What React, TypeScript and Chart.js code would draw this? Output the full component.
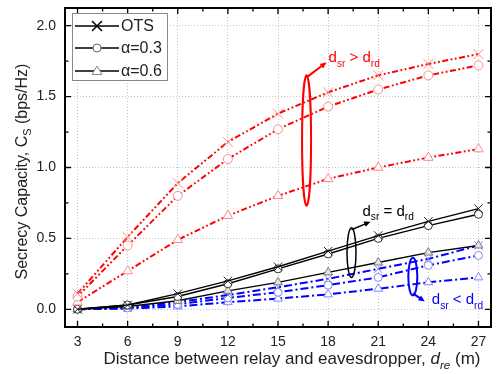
import React, { useEffect, useRef } from "react";
import { Chart, registerables } from "chart.js";
Chart.register(...registerables);

// ---------------- data ----------------
const distances = [3, 6, 9, 12, 15, 18, 21, 24, 27];
const xTicks = [3, 6, 9, 12, 15, 18, 21, 24, 27];
const xMinorTicks = [4.5, 7.5, 10.5, 13.5, 16.5, 19.5, 22.5, 25.5];
const yTicks = [0, 0.5, 1.0, 1.5, 2.0];
const yMinorTicks = [0.25, 0.75, 1.25, 1.75];

// d_sr > d_rd (red)
const redOTS = [0.11, 0.51, 0.89, 1.18, 1.38, 1.53, 1.65, 1.73, 1.8];
const redA03 = [0.09, 0.45, 0.8, 1.06, 1.27, 1.43, 1.55, 1.65, 1.72];
const redA06 = [0.05, 0.27, 0.49, 0.66, 0.8, 0.92, 1.0, 1.07, 1.13];
// d_sr = d_rd (black)
const blackOTS = [0, 0.03, 0.11, 0.2, 0.3, 0.41, 0.52, 0.62, 0.71];
const blackA03 = [0, 0.03, 0.09, 0.18, 0.285, 0.39, 0.5, 0.59, 0.67];
const blackA06 = [0, 0.02, 0.06, 0.13, 0.19, 0.26, 0.33, 0.4, 0.45];
// d_sr < d_rd (blue)
const blueOTS = [0, 0.01, 0.05, 0.1, 0.155, 0.215, 0.285, 0.355, 0.45];
const blueA03 = [0, 0.01, 0.035, 0.08, 0.12, 0.17, 0.225, 0.31, 0.38];
const blueA06 = [0, 0.005, 0.02, 0.05, 0.075, 0.105, 0.145, 0.19, 0.225];

const legendLabels = ["OTS", "α=0.3", "α=0.6"];
const xTitle = "Distance between relay and eavesdropper, ";
const yTitle = "Secrecy Capacity, ";

const FONT = "'Liberation Sans', Arial, sans-serif";
const RED = "#ff0000";
const RED_M = "#ff8a8a";
const BLUE = "#0000ff";
const BLUE_M = "#8585ff";

type Part = { t: string; sub?: boolean; italic?: boolean };

function partsWidth(ctx: CanvasRenderingContext2D, parts: Part[], size: number) {
  let w = 0;
  for (const p of parts) {
    const s = p.sub ? size * 0.68 : size;
    ctx.font = `${p.italic ? "italic " : ""}${s}px ${FONT}`;
    w += ctx.measureText(p.t).width;
  }
  return w;
}

function drawParts(
  ctx: CanvasRenderingContext2D,
  parts: Part[],
  x: number,
  y: number,
  size: number,
  color: string,
  align: "left" | "center" = "left"
) {
  ctx.save();
  ctx.fillStyle = color;
  ctx.textBaseline = "alphabetic";
  ctx.textAlign = "left";
  let cx = x;
  if (align === "center") cx = x - partsWidth(ctx, parts, size) / 2;
  for (const p of parts) {
    const s = p.sub ? size * 0.68 : size;
    ctx.font = `${p.italic ? "italic " : ""}${s}px ${FONT}`;
    ctx.fillText(p.t, cx, p.sub ? y + size * 0.28 : y);
    cx += ctx.measureText(p.t).width;
  }
  ctx.restore();
}

function drawArrow(ctx: CanvasRenderingContext2D, x1: number, y1: number, x2: number, y2: number, color: string, lw: number) {
  const ang = Math.atan2(y2 - y1, x2 - x1);
  const hl = 7;
  ctx.save();
  ctx.strokeStyle = color;
  ctx.fillStyle = color;
  ctx.lineWidth = lw;
  ctx.beginPath();
  ctx.moveTo(x1, y1);
  ctx.lineTo(x2 - Math.cos(ang) * hl * 0.7, y2 - Math.sin(ang) * hl * 0.7);
  ctx.stroke();
  ctx.beginPath();
  ctx.moveTo(x2, y2);
  ctx.lineTo(x2 - hl * Math.cos(ang - 0.42), y2 - hl * Math.sin(ang - 0.42));
  ctx.lineTo(x2 - hl * Math.cos(ang + 0.42), y2 - hl * Math.sin(ang + 0.42));
  ctx.closePath();
  ctx.fill();
  ctx.restore();
}

function drawEllipse(ctx: CanvasRenderingContext2D, cx: number, cy: number, rx: number, ry: number, color: string, lw: number) {
  ctx.save();
  ctx.strokeStyle = color;
  ctx.lineWidth = lw;
  ctx.beginPath();
  ctx.ellipse(cx, cy, rx, ry, 0, 0, Math.PI * 2);
  ctx.stroke();
  ctx.restore();
}

// annotation groups anchored in data space
const annotations = [
  { x: 16.71, y: 1.19, ryVal: 0.46, color: RED, lw: 2, op: ">", arrowFromTop: true, dx: 20, dy: -15, tdx: 22, tdy: -15 },
  { x: 19.4, y: 0.4, ryVal: 0.175, color: "#000000", lw: 1.5, op: "=", arrowFromTop: true, dx: 19, dy: -8, tdx: 11, tdy: -14 },
  { x: 23.07, y: 0.231, ryVal: 0.133, color: BLUE, lw: 2, op: "<", arrowFromTop: false, dx: 12, dy: 8, tdx: 19, tdy: 11 },
];

const chromePlugin = {
  id: "chrome",
  afterDraw(chart: any) {
    const ctx: CanvasRenderingContext2D = chart.ctx;
    const { left, right, top, bottom } = chart.chartArea;
    const xs = chart.scales.x;
    const ys = chart.scales.y;

    // annotations
    for (const a of annotations) {
      const cx = xs.getPixelForValue(a.x);
      const cy = ys.getPixelForValue(a.y);
      const ry = Math.abs(ys.getPixelForValue(a.y + a.ryVal) - cy);
      drawEllipse(ctx, cx, cy, 4.5, ry, a.color, a.lw);
      const sx = cx;
      const sy = a.arrowFromTop ? cy - ry + 2 : cy + ry - 2;
      drawArrow(ctx, sx, sy, sx + a.dx, sy + a.dy, a.color, a.lw);
      drawParts(
        ctx,
        [{ t: "d" }, { t: "sr", sub: true }, { t: ` ${a.op} ` }, { t: "d" }, { t: "rd", sub: true }],
        sx + a.tdx,
        sy + a.tdy,
        15,
        a.color
      );
    }

    // frame
    ctx.save();
    ctx.strokeStyle = "#000";
    ctx.lineWidth = 2;
    ctx.strokeRect(left, top, right - left, bottom - top);
    // ticks (inward)
    ctx.lineWidth = 1.3;
    ctx.beginPath();
    const tick = (vals: number[], len: number) => {
      for (const v of vals) {
        const px = xs.getPixelForValue(v);
        ctx.moveTo(px, bottom);
        ctx.lineTo(px, bottom - len);
        ctx.moveTo(px, top);
        ctx.lineTo(px, top + len);
      }
    };
    const tickY = (vals: number[], len: number) => {
      for (const v of vals) {
        const py = ys.getPixelForValue(v);
        ctx.moveTo(left, py);
        ctx.lineTo(left + len, py);
        ctx.moveTo(right, py);
        ctx.lineTo(right - len, py);
      }
    };
    tick(xTicks, 6);
    tick(xMinorTicks, 3.5);
    tickY(yTicks, 6);
    tickY(yMinorTicks, 3.5);
    ctx.stroke();
    ctx.restore();

    // legend
    const lx = left + 7;
    const ly = top + 5;
    const lw = 95;
    const lh = 67;
    ctx.save();
    ctx.fillStyle = "#fff";
    ctx.fillRect(lx, ly, lw, lh);
    ctx.strokeStyle = "#8a8a8a";
    ctx.lineWidth = 1;
    ctx.strokeRect(lx + 0.5, ly + 0.5, lw, lh);
    const rows = [ly + 13, ly + 35, ly + 58];
    rows.forEach((ry, i) => {
      ctx.strokeStyle = "#000";
      ctx.lineWidth = 1.5;
      ctx.beginPath();
      ctx.moveTo(lx + 3, ry);
      ctx.lineTo(lx + 47, ry);
      ctx.stroke();
      const mx = lx + 25;
      if (i === 0) {
        ctx.lineWidth = 1.5;
        ctx.beginPath();
        ctx.moveTo(mx - 5, ry - 5);
        ctx.lineTo(mx + 5, ry + 5);
        ctx.moveTo(mx + 5, ry - 5);
        ctx.lineTo(mx - 5, ry + 5);
        ctx.stroke();
      } else if (i === 1) {
        ctx.fillStyle = "#fff";
        ctx.strokeStyle = "#666";
        ctx.lineWidth = 1;
        ctx.beginPath();
        ctx.arc(mx, ry, 4, 0, Math.PI * 2);
        ctx.fill();
        ctx.stroke();
      } else {
        ctx.fillStyle = "#fff";
        ctx.strokeStyle = "#888";
        ctx.lineWidth = 1;
        ctx.beginPath();
        ctx.moveTo(mx, ry - 5);
        ctx.lineTo(mx + 5, ry + 3.5);
        ctx.lineTo(mx - 5, ry + 3.5);
        ctx.closePath();
        ctx.fill();
        ctx.stroke();
      }
      ctx.fillStyle = "#222";
      ctx.font = `16px ${FONT}`;
      ctx.textBaseline = "middle";
      ctx.textAlign = "left";
      ctx.fillText(legendLabels[i], lx + 49, ry + 1);
    });
    ctx.restore();

    // axis titles
    drawParts(
      ctx,
      [{ t: xTitle }, { t: "d", italic: true }, { t: "re", sub: true, italic: true }, { t: " (m)" }],
      (left + right) / 2 + 14,
      bottom + 37,
      17,
      "#222",
      "center"
    );
    ctx.save();
    ctx.translate(27, (top + bottom) / 2 + 4);
    ctx.rotate(-Math.PI / 2);
    drawParts(ctx, [{ t: yTitle + "C" }, { t: "S", sub: true }, { t: " (bps/Hz)" }], 0, 0, 16, "#222", "center");
    ctx.restore();
  },
};

function series(label: string, data: number[], color: string, mColor: string, style: string, dash: number[], width: number, radius: number, fill: string) {
  return {
    label,
    data: distances.map((d, i) => ({ x: d, y: data[i] })),
    borderColor: color,
    borderWidth: width,
    borderDash: dash,
    pointStyle: style,
    pointRadius: radius,
    pointBorderColor: mColor,
    pointBackgroundColor: fill,
    pointBorderWidth: 1,
    tension: 0,
    fill: false,
  };
}

const RED_DASH = [6, 2.5, 1.8, 2.5, 1.8, 2.5];
const BLUE_DASH = [8, 3, 2, 3];

export default function App() {
  const ref = useRef<HTMLCanvasElement | null>(null);
  useEffect(() => {
    document.body.style.margin = "0";
    const canvas = ref.current!;
    const chart = new Chart(canvas, {
      type: "line",
      data: {
        datasets: [
          series("OTS", redOTS, RED, RED_M, "crossRot", RED_DASH, 2, 7, RED_M),
          series("α=0.3", redA03, RED, RED_M, "circle", RED_DASH, 2, 4.5, "#fff"),
          series("α=0.6", redA06, RED, RED_M, "triangle", RED_DASH, 2, 5.5, "#fff"),
          series("OTS", blackOTS, "#000", "#222", "crossRot", [], 1.4, 6, "#222"),
          series("α=0.3", blackA03, "#000", "#333", "circle", [], 1.4, 4, "#fff"),
          series("α=0.6", blackA06, "#000", "#777", "triangle", [], 1.4, 5, "#e4e4e4"),
          series("OTS", blueOTS, BLUE, BLUE_M, "crossRot", BLUE_DASH, 2, 6, BLUE_M),
          series("α=0.3", blueA03, BLUE, BLUE_M, "circle", BLUE_DASH, 2, 4, "#fff"),
          series("α=0.6", blueA06, BLUE, BLUE_M, "triangle", BLUE_DASH, 2, 5, "#fff"),
        ] as any,
      },
      options: {
        animation: false,
        responsive: false,
        events: [],
        layout: { padding: { top: 5, right: 3, left: 0, bottom: 0 } },
        plugins: { legend: { display: false }, tooltip: { enabled: false } },
        scales: {
          x: {
            type: "linear",
            min: 2.25,
            max: 27.75,
            afterBuildTicks: (s: any) => {
              s.ticks = xTicks.map((v) => ({ value: v }));
            },
            afterFit: (s: any) => {
              s.height = 47;
              s.paddingLeft = 0;
              s.paddingRight = 0;
            },
            grid: { color: "#c4c4c4", lineWidth: 1, drawTicks: false },
            border: { display: false, dash: [1, 2] },
            ticks: { padding: 7, color: "#222", font: { family: FONT, size: 14 }, callback: (v: any) => String(v), maxRotation: 0, autoSkip: false },
          },
          y: {
            type: "linear",
            min: -0.125,
            max: 2.125,
            afterBuildTicks: (s: any) => {
              s.ticks = yTicks.map((v) => ({ value: v }));
            },
            afterFit: (s: any) => {
              s.width = 65;
              s.paddingTop = 0;
              s.paddingBottom = 0;
            },
            grid: { color: "#c4c4c4", lineWidth: 1, drawTicks: false },
            border: { display: false, dash: [1, 2] },
            ticks: { padding: 9, color: "#222", font: { family: FONT, size: 14 }, callback: (v: any) => Number(v).toFixed(1) },
          },
        },
      } as any,
      plugins: [chromePlugin],
    });
    return () => chart.destroy();
  }, []);
  return (
    <div style={{ position: "fixed", left: 0, top: 0, width: 499, height: 374 }}>
      <canvas ref={ref} width={499} height={374} />
    </div>
  );
}
